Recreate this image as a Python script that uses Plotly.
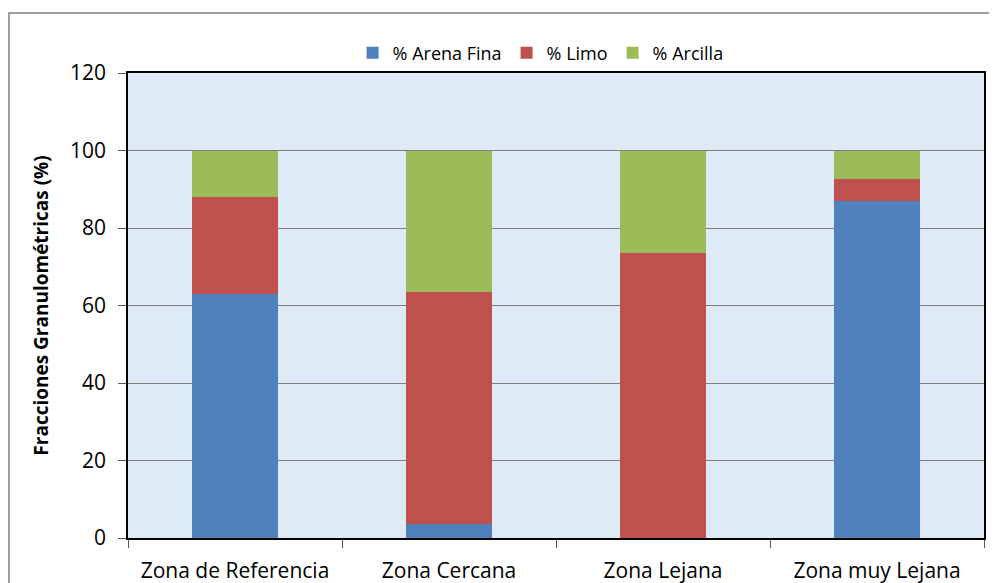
import plotly.graph_objects as go

zonas = ["Zona de Referencia", "Zona Cercana", "Zona Lejana", "Zona muy Lejana"]
arena_fina = [63, 3.5, 0, 87]
limo = [25, 60, 73.5, 5.7]
arcilla = [12, 36.5, 26.5, 7.3]

series = [
    ("% Arena Fina", arena_fina, "#4F81BD"),
    ("% Limo", limo, "#C0504D"),
    ("% Arcilla", arcilla, "#9BBB59"),
]

fig = go.Figure()
for name, values, color in series:
    fig.add_trace(go.Bar(x=zonas, y=values, name=name, marker={"color": color, "line": {"width": 0}}))

# the page adds an 8px body margin, so the figure is drawn 8px in and 8px down
fig.update_layout(
    barmode="stack",
    bargap=0.6,
    width=989,
    height=575,
    paper_bgcolor="white",
    plot_bgcolor="#dfeaf7",
    font={"family": "Open Sans, Noto Sans, sans-serif", "color": "black"},
    margin={"l": 120, "r": 11, "t": 65, "b": 45},
    legend={
        "orientation": "h",
        "traceorder": "normal",
        "bgcolor": "rgba(0,0,0,0)",
        "x": 0.482,
        "xanchor": "center",
        "y": 1.003,
        "yanchor": "bottom",
        "font": {"size": 18},
    },
    showlegend=True,
)
fig.update_xaxes(
    automargin=False,
    showline=True,
    linecolor="black",
    linewidth=1.5,
    mirror=True,
    ticks="outside",
    tickson="boundaries",
    ticklen=8,
    tickcolor="#555",
    ticklabelstandoff=13,
    tickfont={"size": 21},
)
fig.update_yaxes(
    range=[0, 120],
    dtick=20,
    showline=True,
    linecolor="black",
    linewidth=1.5,
    mirror=True,
    ticks="outside",
    ticklen=8,
    tickcolor="#555",
    ticklabelstandoff=8,
    showgrid=True,
    gridcolor="#7f7f7f",
    gridwidth=1,
    zeroline=False,
    tickfont={"size": 21},
    title={"text": "<b>Fracciones Granulométricas (%)</b>", "font": {"size": 19}, "standoff": 16},
)
fig.add_shape(
    type="rect",
    xref="paper",
    yref="paper",
    x0=-0.139,
    x1=1.03,
    y0=-0.3,
    y1=1.129,
    line={"color": "#7f7f7f", "width": 1.5},
    layer="below",
)

fig.write_html("out.html")
